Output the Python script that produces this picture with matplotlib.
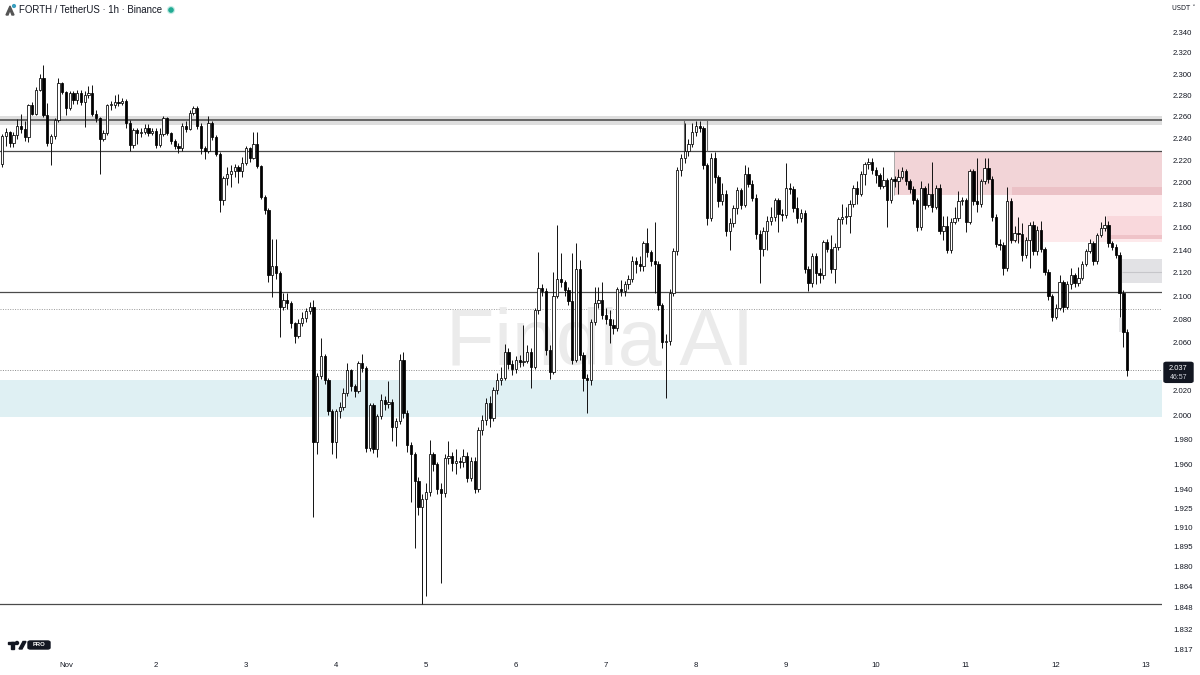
import matplotlib
matplotlib.use("Agg")
import matplotlib.pyplot as plt
from matplotlib.patches import Rectangle, FancyBboxPatch, Ellipse, Polygon
from matplotlib.ticker import FixedLocator, NullLocator
import numpy as np

W, H = 1200, 675

# hourly candles, first one at Oct 31 07:00 (hour -17 from Nov 1 00:00)
first_hour = -17
first_open = 2.217
closes = [
    2.242, 2.246, 2.236, 2.243, 2.252, 2.249, 2.241, 2.271, 2.263, 2.285,
    2.296, 2.262, 2.236, 2.242, 2.257, 2.292, 2.283, 2.268, 2.282, 2.276,
    2.282, 2.274, 2.280, 2.282, 2.263, 2.259, 2.240, 2.245, 2.271, 2.271,
    2.274, 2.273, 2.275, 2.254, 2.234, 2.248, 2.245, 2.246, 2.250, 2.245,
    2.247, 2.234, 2.244, 2.259, 2.245, 2.238, 2.233, 2.231, 2.252, 2.249,
    2.264, 2.268, 2.252, 2.231, 2.229, 2.254, 2.241, 2.226, 2.184, 2.204,
    2.208, 2.210, 2.214, 2.210, 2.218, 2.231, 2.222, 2.235, 2.215, 2.187,
    2.175, 2.118, 2.126, 2.120, 2.091, 2.097, 2.094, 2.077, 2.066, 2.077,
    2.081, 2.087, 2.091, 1.978, 2.032, 2.049, 2.029, 2.003, 1.978, 2.003,
    2.007, 2.018, 2.037, 2.024, 2.020, 2.043, 2.039, 1.973, 2.008, 1.972,
    1.999, 2.012, 2.009, 2.011, 1.990, 1.995, 2.046, 2.002, 1.976, 1.968,
    1.947, 1.926, 1.932, 1.938, 1.968, 1.960, 1.940, 1.937, 1.965, 1.967,
    1.961, 1.963, 1.962, 1.967, 1.949, 1.963, 1.940, 1.988, 1.996, 2.010,
    1.998, 2.021, 2.029, 2.031, 2.052, 2.042, 2.038, 2.046, 2.044, 2.045,
    2.052, 2.040, 2.088, 2.107, 2.104, 2.054, 2.036, 2.100, 2.115, 2.112,
    2.105, 2.096, 2.046, 2.123, 2.050, 2.031, 2.029, 2.078, 2.094, 2.097,
    2.084, 2.080, 2.075, 2.073, 2.106, 2.104, 2.110, 2.115, 2.130, 2.128,
    2.126, 2.146, 2.138, 2.130, 2.128, 2.092, 2.061, 2.062, 2.103, 2.139,
    2.211, 2.222, 2.229, 2.235, 2.246, 2.252, 2.250, 2.216, 2.168, 2.222,
    2.205, 2.183, 2.190, 2.157, 2.164, 2.177, 2.193, 2.180, 2.208, 2.199,
    2.186, 2.154, 2.141, 2.157, 2.166, 2.169, 2.184, 2.172, 2.171, 2.195,
    2.194, 2.177, 2.168, 2.173, 2.123, 2.111, 2.135, 2.120, 2.118, 2.147,
    2.141, 2.123, 2.143, 2.167, 2.169, 2.170, 2.181, 2.195, 2.190, 2.208,
    2.217, 2.219, 2.211, 2.207, 2.197, 2.202, 2.184, 2.203, 2.201, 2.205,
    2.210, 2.201, 2.194, 2.184, 2.160, 2.195, 2.180, 2.190, 2.178, 2.195,
    2.157, 2.161, 2.140, 2.165, 2.168, 2.183, 2.184, 2.165, 2.210, 2.183,
    2.181, 2.201, 2.213, 2.203, 2.169, 2.145, 2.144, 2.124, 2.183, 2.149,
    2.155, 2.154, 2.136, 2.149, 2.162, 2.139, 2.158, 2.141, 2.121, 2.100,
    2.082, 2.090, 2.112, 2.091, 2.110, 2.118, 2.111, 2.116, 2.128, 2.139,
    2.146, 2.130, 2.153, 2.159, 2.162, 2.146, 2.143, 2.136, 2.103, 2.069, 2.037,
]
highs = [
    2.244, 2.250, 2.247, 2.246, 2.258, 2.263, 2.256, 2.272, 2.274, 2.288,
    2.300, 2.309, 2.273, 2.244, 2.259, 2.296, 2.293, 2.284, 2.284, 2.284,
    2.285, 2.285, 2.284, 2.289, 2.290, 2.266, 2.260, 2.248, 2.272, 2.275,
    2.280, 2.281, 2.278, 2.277, 2.257, 2.250, 2.250, 2.250, 2.253, 2.253,
    2.250, 2.250, 2.250, 2.261, 2.260, 2.246, 2.240, 2.236, 2.254, 2.256,
    2.266, 2.270, 2.270, 2.254, 2.233, 2.261, 2.256, 2.243, 2.228, 2.206,
    2.214, 2.216, 2.217, 2.216, 2.223, 2.233, 2.232, 2.246, 2.246, 2.216,
    2.189, 2.177, 2.150, 2.150, 2.122, 2.103, 2.103, 2.096, 2.078, 2.080,
    2.086, 2.090, 2.095, 2.097, 2.035, 2.064, 2.051, 2.031, 2.005, 2.005,
    2.011, 2.022, 2.043, 2.038, 2.026, 2.045, 2.051, 2.041, 2.010, 2.010,
    2.001, 2.017, 2.016, 2.028, 2.013, 1.998, 2.051, 2.052, 2.004, 1.978,
    1.970, 1.950, 1.936, 1.945, 1.980, 1.970, 1.962, 1.945, 1.968, 1.979,
    1.970, 1.972, 1.966, 1.972, 1.970, 1.966, 1.966, 1.990, 2.000, 2.014,
    2.016, 2.023, 2.035, 2.040, 2.059, 2.056, 2.046, 2.049, 2.050, 2.075,
    2.058, 2.056, 2.090, 2.138, 2.110, 2.107, 2.058, 2.121, 2.162, 2.137,
    2.114, 2.108, 2.137, 2.146, 2.131, 2.052, 2.034, 2.080, 2.108, 2.108,
    2.112, 2.090, 2.088, 2.080, 2.108, 2.114, 2.113, 2.118, 2.135, 2.134,
    2.135, 2.148, 2.159, 2.140, 2.165, 2.130, 2.094, 2.068, 2.106, 2.142,
    2.214, 2.226, 2.254, 2.240, 2.254, 2.256, 2.256, 2.252, 2.218, 2.227,
    2.228, 2.207, 2.200, 2.193, 2.168, 2.180, 2.196, 2.195, 2.216, 2.214,
    2.202, 2.190, 2.158, 2.160, 2.170, 2.178, 2.186, 2.186, 2.176, 2.218,
    2.200, 2.197, 2.187, 2.176, 2.175, 2.126, 2.137, 2.137, 2.124, 2.149,
    2.150, 2.153, 2.146, 2.169, 2.181, 2.178, 2.184, 2.198, 2.201, 2.210,
    2.219, 2.222, 2.222, 2.214, 2.209, 2.214, 2.204, 2.205, 2.206, 2.212,
    2.214, 2.212, 2.203, 2.197, 2.186, 2.201, 2.197, 2.200, 2.219, 2.198,
    2.199, 2.170, 2.170, 2.168, 2.178, 2.192, 2.187, 2.186, 2.212, 2.212,
    2.222, 2.203, 2.222, 2.222, 2.206, 2.172, 2.150, 2.147, 2.196, 2.186,
    2.161, 2.169, 2.164, 2.151, 2.165, 2.166, 2.161, 2.166, 2.143, 2.123,
    2.102, 2.093, 2.118, 2.114, 2.113, 2.124, 2.120, 2.125, 2.130, 2.141,
    2.150, 2.148, 2.155, 2.165, 2.170, 2.166, 2.148, 2.145, 2.138, 2.105, 2.072,
]
lows = [
    2.214, 2.233, 2.232, 2.232, 2.240, 2.245, 2.238, 2.237, 2.262, 2.262,
    2.284, 2.260, 2.233, 2.216, 2.240, 2.255, 2.281, 2.262, 2.266, 2.272,
    2.272, 2.271, 2.251, 2.278, 2.261, 2.255, 2.208, 2.238, 2.243, 2.266,
    2.268, 2.270, 2.271, 2.250, 2.229, 2.231, 2.235, 2.241, 2.244, 2.242,
    2.243, 2.231, 2.232, 2.242, 2.243, 2.235, 2.230, 2.227, 2.229, 2.246,
    2.248, 2.262, 2.249, 2.226, 2.221, 2.227, 2.239, 2.224, 2.174, 2.180,
    2.198, 2.196, 2.205, 2.200, 2.205, 2.216, 2.219, 2.221, 2.213, 2.185,
    2.172, 2.112, 2.099, 2.115, 2.065, 2.088, 2.089, 2.073, 2.060, 2.064,
    2.074, 2.078, 2.085, 1.918, 1.968, 2.030, 2.026, 2.000, 1.968, 1.965,
    1.998, 2.004, 2.016, 2.020, 2.015, 2.018, 2.036, 1.970, 1.971, 1.969,
    1.966, 1.997, 2.004, 2.006, 1.979, 1.975, 1.993, 1.998, 1.970, 1.930,
    1.894, 1.920, 1.851, 1.857, 1.935, 1.955, 1.936, 1.867, 1.934, 1.960,
    1.955, 1.952, 1.957, 1.958, 1.946, 1.947, 1.937, 1.938, 1.984, 1.992,
    1.990, 1.995, 2.017, 2.025, 2.029, 2.038, 2.033, 2.035, 2.040, 2.041,
    2.043, 2.022, 2.038, 2.085, 2.100, 2.050, 2.030, 2.034, 2.098, 2.108,
    2.100, 2.092, 2.042, 2.044, 2.046, 2.020, 2.002, 2.025, 2.075, 2.090,
    2.080, 2.076, 2.060, 2.068, 2.070, 2.100, 2.100, 2.106, 2.112, 2.120,
    2.122, 2.122, 2.134, 2.126, 2.103, 2.088, 2.056, 2.014, 2.058, 2.100,
    2.136, 2.206, 2.218, 2.224, 2.232, 2.242, 2.246, 2.212, 2.162, 2.166,
    2.200, 2.178, 2.180, 2.152, 2.140, 2.160, 2.172, 2.176, 2.178, 2.196,
    2.183, 2.150, 2.111, 2.135, 2.140, 2.162, 2.166, 2.156, 2.166, 2.168,
    2.190, 2.174, 2.164, 2.165, 2.120, 2.104, 2.108, 2.110, 2.111, 2.115,
    2.138, 2.120, 2.111, 2.140, 2.163, 2.163, 2.155, 2.178, 2.181, 2.188,
    2.198, 2.212, 2.208, 2.200, 2.194, 2.195, 2.160, 2.182, 2.196, 2.190,
    2.203, 2.198, 2.191, 2.181, 2.157, 2.158, 2.176, 2.178, 2.174, 2.176,
    2.154, 2.149, 2.137, 2.137, 2.163, 2.166, 2.180, 2.156, 2.163, 2.180,
    2.174, 2.178, 2.199, 2.200, 2.166, 2.143, 2.140, 2.118, 2.122, 2.146,
    2.147, 2.146, 2.130, 2.133, 2.124, 2.136, 2.136, 2.138, 2.118, 2.097,
    2.079, 2.080, 2.088, 2.086, 2.089, 2.106, 2.108, 2.109, 2.114, 2.126,
    2.137, 2.127, 2.128, 2.151, 2.157, 2.143, 2.140, 2.133, 2.082, 2.057, 2.032,
]

price_ticks = [2.34, 2.32, 2.30, 2.28, 2.26, 2.24, 2.22, 2.20, 2.18, 2.16,
               2.14, 2.12, 2.10, 2.08, 2.06, 2.02, 2.00, 1.98, 1.96, 1.94,
               1.925, 1.91, 1.895, 1.88, 1.864, 1.848, 1.832, 1.817]
day_labels = ["Nov", "2", "3", "4", "5", "6", "7", "8", "9", "10", "11", "12", "13"]
last_price = 2.037
countdown = "46:57"

# drawn levels
solid_levels = [2.2285, 2.1035, 1.851]
top_level = 2.257
dotted_level = 2.089

hours = np.arange(len(closes)) + first_hour
closes = np.array(closes)
opens = np.concatenate([[first_open], closes[:-1]])
highs = np.maximum(np.array(highs), np.maximum(opens, closes))
lows = np.minimum(np.array(lows), np.minimum(opens, closes))

fig = plt.figure(figsize=(W / 100, H / 100), dpi=100)
fig.patch.set_facecolor("white")
ax = fig.add_axes([0, 20 / H, 1162 / W, 655 / H])
ax.set_facecolor("white")
x0, x1 = -17.6, 292.3
ax.set_xlim(x0, x1)
ax.set_yscale("log")
ax.set_ylim(1.8127, 2.3709)
for s in ax.spines.values():
    s.set_visible(False)

# zones
ax.axhspan(1.9982, 2.0291, color="#dff0f3", lw=0, zorder=0.2)
ax.axhspan(2.2525, 2.2605, color="#dedede", lw=0, zorder=0.2)
ax.add_patch(Rectangle((220.8, 2.1888), x1 - 220.8, 2.2285 - 2.1888, color="#f2d4d7", lw=0, zorder=0.2))
ax.add_patch(Rectangle((252.3, 2.1888), x1 - 252.3, 2.1963 - 2.1888, color="#ebc1c6", lw=0, zorder=0.25))
ax.add_patch(Rectangle((251.0, 2.1469), x1 - 251.0, 2.1888 - 2.1469, color="#fde9eb", lw=0, zorder=0.2))
ax.add_patch(Rectangle((277.6, 2.1497), x1 - 277.6, 2.1700 - 2.1497, color="#f9d8dc", lw=0, zorder=0.25))
ax.add_patch(Rectangle((277.6, 2.1497), x1 - 277.6, 2.1532 - 2.1497, color="#efc3c8", lw=0, zorder=0.26))
ax.add_patch(Rectangle((281.6, 2.1110), x1 - 281.6, 2.1318 - 2.1110, color="#e2e2e5", lw=0, zorder=0.2))
ax.hlines(2.1212, 281.6, x1, color="#c6c6ca", lw=0.8, zorder=0.3)
ax.add_patch(Rectangle((280.9, 2.069), 1.6, 2.081 - 2.069, color="#e4e4e6", lw=0, zorder=0.2))
ax.vlines(220.8, 2.1888, 2.2285, color="#a9a9a9", lw=0.7, zorder=0.4)

# levels
ax.axhline(top_level, color="#444444", lw=1.1, zorder=0.5)
for lv in solid_levels:
    ax.axhline(lv, color="#4a4a4a", lw=0.9, zorder=0.5)
ax.axhline(dotted_level, color="#9a9a9a", lw=0.7, ls=(0, (1, 1.5)), zorder=0.5)
ax.axhline(last_price, color="#8a8a8a", lw=0.7, ls=(0, (1, 1.5)), zorder=0.5)
ax.vlines([164.8, 170.9], 2.2285, top_level, color="#666666", lw=0.8, zorder=0.5)

# watermark
ax.text(600 / W, 1 - 365 / H, "Findia AI", transform=fig.transFigure, fontsize=57,
        family="Liberation Sans", color="#ebebeb", ha="center", va="baseline", zorder=0.6)

# candles
up = closes >= opens
ax.vlines(hours, lows, highs, color="#111111", lw=0.7, zorder=2)
body_lo = np.minimum(opens, closes)
body_h = np.maximum(np.abs(closes - opens), 0.0006)
ax.bar(hours, body_h, bottom=body_lo, width=0.62,
       color=np.where(up, "white", "black"), edgecolor="black", linewidth=0.55, zorder=3)

# axes labels
ax.yaxis.tick_right()
ax.yaxis.set_major_locator(FixedLocator(price_ticks))
ax.yaxis.set_minor_locator(NullLocator())
ax.set_yticklabels(["%.3f" % p for p in price_ticks])
ax.tick_params(axis="y", length=0, pad=8, labelsize=5.6, labelcolor="#131722")
for t in ax.get_yticklabels():
    t.set_family("Liberation Sans")
ax.set_xticks([24 * i for i in range(len(day_labels))])
ax.set_xticklabels(day_labels)
ax.tick_params(axis="x", length=0, pad=5, labelsize=5.6, labelcolor="#131722")
for t in ax.get_xticklabels():
    t.set_family("Liberation Sans")


def fx(x):
    return x / W


def fy(y):
    return 1 - y / H


def dot(x, y, r, color, z=3):
    # round dot given in pixels
    fig.patches.append(Ellipse((fx(x), fy(y)), 2 * r / W, 2 * r / H,
                               transform=fig.transFigure, color=color, zorder=z))


# header
fig.text(fx(19), fy(10), "FORTH / TetherUS \u00b7 1h \u00b7 Binance", fontsize=6.9,
         family="Liberation Sans", color="#131722", va="center", ha="left")
dot(171, 10, 3.4, "#c8ece6")
dot(171, 10, 2.1, "#22ab94", 4)
fig.patches.append(Polygon([(fx(6), fy(15)), (fx(10), fy(6)), (fx(14), fy(15)), (fx(12), fy(15)),
                            (fx(10), fy(10)), (fx(8), fy(15))], closed=True,
                           transform=fig.transFigure, color="#555555"))
dot(14, 6, 1.4, "#3a9fbf")
fig.text(fx(1172), fy(8), "USDT \u02c5", fontsize=4.8, family="DejaVu Sans",
         color="#131722", va="center", ha="left")

# last price tag
fig.canvas.draw()
ypix = ax.transData.transform((0, last_price))[1]
yc = H - ypix
fig.patches.append(FancyBboxPatch((fx(1164), fy(yc + 12)), 29 / W, 20 / H,
                                  boxstyle="round,pad=0,rounding_size=0.002",
                                  transform=fig.transFigure, color="#131722", zorder=5))
fig.text(fx(1178.5), fy(yc - 2), "%.3f" % last_price, fontsize=5.4, family="Liberation Sans",
         color="white", ha="center", va="center", zorder=6)
fig.text(fx(1178.5), fy(yc + 7), countdown, fontsize=5.0, family="Liberation Sans",
         color="#d1d4dc", ha="center", va="center", zorder=6)

# TradingView logo bottom-left
lg = "#131722"
fig.patches.append(Rectangle((fx(8), fy(644)), 7 / W, 2.5 / H, transform=fig.transFigure, color=lg))
fig.patches.append(Rectangle((fx(11), fy(649)), 2.5 / W, 7 / H, transform=fig.transFigure, color=lg))
dot(17, 643, 1.5, lg)
fig.patches.append(Polygon([(fx(19), fy(649)), (fx(23), fy(641.5)), (fx(26), fy(641.5)),
                            (fx(22), fy(649))], closed=True, transform=fig.transFigure, color=lg))
fig.patches.append(FancyBboxPatch((fx(28), fy(649)), 22 / W, 8 / H,
                                  boxstyle="round,pad=0,rounding_size=0.002",
                                  transform=fig.transFigure, color=lg))
fig.text(fx(39), fy(645), "PRO", fontsize=4.2, family="Liberation Sans", weight="bold",
         color="white", ha="center", va="center")

fig.savefig("out.png", dpi=100)
